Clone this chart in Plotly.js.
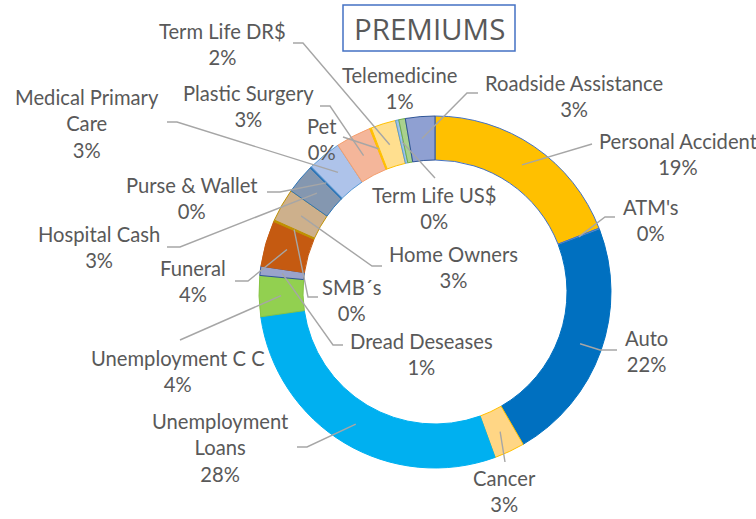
<!DOCTYPE html>
<html>
<head>
<meta charset="utf-8">
<script src="https://cdn.plot.ly/plotly-3.0.1.min.js"></script>
<style>
  html, body { margin: 0; padding: 0; background: #ffffff; }
  #chart { width: 756px; height: 519px; }
</style>
</head>
<body>
<div id="chart"></div>
<script>
// ---------------- data ----------------
const categories = [
  "Personal Accident", "ATM's", "Auto", "Cancer", "Unemployment<br>Loans",
  "Unemployment C C", "Dread Deseases", "Funeral", "SMB´s", "Home Owners",
  "Hospital Cash", "Purse & Wallet", "Medical Primary<br>Care", "Plastic Surgery", "Pet",
  "Term Life DR$", "Term Life US$", "Telemedicine", "Roadside Assistance"
];
const premiums = [
  19.1, 0.15, 22.4, 2.8, 28.3,
  3.75, 0.85, 4.2, 0.15, 3.05,
  2.7, 0.15, 3.1, 3.25, 0.15,
  2.3, 0.3, 0.6, 2.7
];

// ---------------- styles ----------------
const sliceColors = [
  "#FFC000", "#5B9BD5", "#0070C0", "#FFD685", "#00B0F0",
  "#92D050", "#9AA3CB", "#C55A11", "#BF9000", "#CDB08C",
  "#8497B0", "#2E75B6", "#AEC3EA", "#F4B69A", "#FFC000",
  "#FFDF8F", "#9DC3E6", "#A9D18E", "#8FA0D2"
];
const sliceLines = [
  "#4472C4", "#4472C4", "#0070C0", "#FFC000", "#00B0F0",
  "#86C444", "#2F5597", "#C55A11", "#BF9000", "#BF9000",
  "#2E75B6", "#2E75B6", "#5B9BD5", "#F4A070", "#FFC000",
  "#FFC000", "#5B9BD5", "#70AD47", "#2F5597"
];

// label block centres (px) and leader start / elbow (px) -- layout only
const labelPos = [
  [678, 154], [651, 220], [646, 351], [504, 491], [220, 447],
  [178, 371], [421, 354], [193, 281], [352, 300], [453, 267],
  [99, 247], [192, 198], [87, 124], [248, 106], [322, 139],
  [222, 44], [434, 208], [399, 88], [574, 96]
];
const leaderStart = [
  [592, 144], [615, 217], [617, 350], [505, 462], [297, 447],
  [180, 340], [343, 345], [235, 281], [318, 297], [382, 266],
  [167, 247], [267, 192], [167, 122], [320, 106], [343, 137],
  [293, 43], [435, 178], null, [478, 93]
];
const leaderElbow = [
  null, [605, 217], [600, 350], null, [307, 447],
  null, [333, 345], [248, 281], [308, 297], [372, 266],
  [180, 247], [280, 192], [177, 122], [330, 106], null,
  [303, 43], null, null, [467, 93]
];

const W = 756, H = 519;
const CX = 435, CY = 292, R = 176, HOLE = 0.75;
const px = x => x / W;
const py = y => 1 - y / H;

const textColor = "#595959";
const font = "Lato, 'Open Sans', sans-serif";

// ---------------- trace ----------------
const trace = {
  type: "pie",
  labels: categories,
  values: premiums,
  sort: false,
  direction: "clockwise",
  rotation: 0,
  hole: HOLE,
  textinfo: "none",
  hoverinfo: "label+percent",
  showlegend: false,
  marker: { colors: sliceColors, line: { color: sliceLines, width: 1 } },
  domain: { x: [px(CX - R), px(CX + R)], y: [py(CY + R), py(CY - R)] }
};

// ---------------- labels & leader lines ----------------
const total = premiums.reduce((a, b) => a + b, 0);
const rMid = (R + R * HOLE) / 2;
const annotations = [];
const shapes = [];
let cum = 0;
premiums.forEach((v, i) => {
  const mid = (cum + v / 2) / total * 2 * Math.PI;
  cum += v;
  const pct = Math.round(v / total * 100);
  annotations.push({
    xref: "paper", yref: "paper",
    x: px(labelPos[i][0]), y: py(labelPos[i][1]),
    xanchor: "center", yanchor: "middle",
    text: categories[i] + "<br>" + pct + "%",
    showarrow: false,
    font: { family: font, size: 20.2, color: textColor }
  });
  if (leaderStart[i]) {
    const ex = CX + rMid * Math.sin(mid);
    const ey = CY - rMid * Math.cos(mid);
    let path = "M " + px(leaderStart[i][0]) + "," + py(leaderStart[i][1]);
    if (leaderElbow[i]) path += " L " + px(leaderElbow[i][0]) + "," + py(leaderElbow[i][1]);
    path += " L " + px(ex) + "," + py(ey);
    shapes.push({
      type: "path", xref: "paper", yref: "paper", path: path,
      line: { color: "#A6A6A6", width: 1.4 }
    });
  }
});

// title box
shapes.push({
  type: "rect", xref: "paper", yref: "paper",
  x0: px(343), x1: px(515), y0: py(51), y1: py(5),
  line: { color: "#4472C4", width: 1.5 }, fillcolor: "rgba(0,0,0,0)"
});
annotations.push({
  xref: "paper", yref: "paper", x: px(429), y: py(29),
  xanchor: "center", yanchor: "middle", showarrow: false,
  text: "PREMIUMS",
  font: { family: "'Open Sans', sans-serif", size: 29.5, color: textColor }
});

const layout = {
  width: W, height: H,
  margin: { l: 0, r: 0, t: 0, b: 0 },
  paper_bgcolor: "#ffffff",
  showlegend: false,
  annotations: annotations,
  shapes: shapes
};

Plotly.newPlot("chart", [trace], layout, { displayModeBar: false, staticPlot: true });
</script>
</body>
</html>
